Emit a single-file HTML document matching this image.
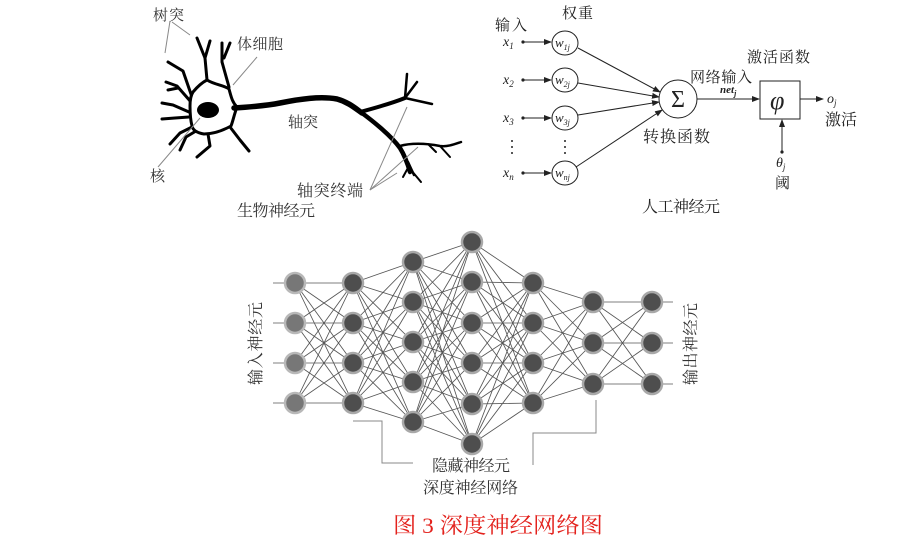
<!DOCTYPE html>
<html><head><meta charset="utf-8"><style>
html,body{margin:0;padding:0;background:#fff;}
svg{display:block;}
.cn{font-family:"Liberation Serif","Noto Serif CJK SC",serif;fill:#222;}
.m{font-family:"Liberation Serif",serif;font-style:italic;fill:#222;}
</style></head><body>
<svg width="911" height="549" viewBox="0 0 911 549" xmlns="http://www.w3.org/2000/svg">
<rect width="911" height="549" fill="#fff"/>

<!-- ===== Biological neuron ===== -->
<g fill="none" stroke="#000" stroke-linecap="round" stroke-linejoin="round">
  <g stroke-width="3">
    <path d="M207,80 L205,58 L197,38"/><path d="M205,58 L210,41"/>
    <path d="M229,87 L222,62 L222,43"/><path d="M224,58 L230,43"/>
    <path d="M192,97 L183,71 L168,62"/>
    <path d="M191,102 L177,86 L166,82"/><path d="M178,88 L168,90"/>
    <path d="M189,112 L173,105 L162,103"/>
    <path d="M189,117 L175,118 L162,119"/>
    <path d="M192,127 L180,133 L170,144"/>
    <path d="M196,131 L186,137 L180,150"/>
    <path d="M208,134 L210,146 L197,157"/>
    <path d="M230,127 L240,140 L249,151"/>
  </g>
  <path d="M207,80 C215,85 224,85 229,89 C231,96 232,102 237,107 C234,115 233,121 231,126 C222,131 212,134 204,134 C198,133 193,131 192,126 C190,118 190,112 190,106 C190,100 191,95 193,92 C198,86 203,82 207,80 Z" fill="#fff" stroke-width="3"/>
  <path d="M234,108 C250,107 265,106 280,103 C300,99 320,96 337,99 C348,102 355,108 362,113" stroke-width="5.5"/>
  <path d="M360,112 C375,108 390,104 405,98" stroke-width="4"/>
  <path d="M405,98 L407,74" stroke-width="2.5"/>
  <path d="M405,98 L417,82" stroke-width="2.5"/>
  <path d="M405,98 L432,104" stroke-width="2.5"/>
  <path d="M362,113 C378,125 392,137 400,148 C405,156 408,165 410,172" stroke-width="4.5"/>
  <path d="M400,146 C410,143 425,143 440,146 C448,147 455,144 461,142" stroke-width="2.5"/>
  <path d="M440,146 L450,157" stroke-width="2"/>
  <path d="M428,144 L436,152" stroke-width="2"/>
  <path d="M408,162 L414,175" stroke-width="2.5"/>
  <path d="M409,166 L403,177" stroke-width="2"/>
  <path d="M411,170 L421,182" stroke-width="2"/>
</g>
<ellipse cx="208" cy="110" rx="11" ry="8" fill="#000"/>
<g stroke="#888" stroke-width="1" fill="none">
  <line x1="170" y1="21" x2="165" y2="53"/>
  <line x1="172" y1="22" x2="190" y2="35"/>
  <line x1="257" y1="57" x2="233" y2="85"/>
  <line x1="158" y1="167" x2="200" y2="118"/>
  <line x1="370" y1="190" x2="407" y2="107"/>
  <line x1="370" y1="190" x2="418" y2="147"/>
  <line x1="370" y1="190" x2="397" y2="173"/>
</g>
<g class="cn" font-size="15" style="fill:#333">
  <text x="153" y="20" textLength="31">树突</text>
  <text x="237" y="49" textLength="46">体细胞</text>
  <text x="288" y="127" textLength="30">轴突</text>
  <text x="150" y="181">核</text>
  <text x="297" y="196" font-size="16" textLength="66">轴突终端</text>
  <text x="237" y="216" font-size="16" textLength="78">生物神经元</text>
</g>

<!-- ===== Artificial neuron ===== -->
<defs>
  <marker id="ah" markerWidth="8" markerHeight="6" refX="7" refY="3" orient="auto" markerUnits="userSpaceOnUse">
    <path d="M0,0 L8,3 L0,6 Z" fill="#222"/>
  </marker>
</defs>
<g class="cn" font-size="15">
  <text x="562" y="18" textLength="31">权重</text>
  <text x="495" y="30" textLength="32">输入</text>
  <text x="690" y="82" textLength="62">网络输入</text>
  <text x="747" y="62" textLength="63">激活函数</text>
  <text x="643" y="142" font-size="16" textLength="67">转换函数</text>
  <text x="825" y="125" font-size="16" textLength="32">激活</text>
  <text x="775" y="188">阈</text>
  <text x="642" y="212" font-size="16" textLength="78">人工神经元</text>
</g>
<g stroke="#222" stroke-width="1" fill="none">
  <line x1="523" y1="42" x2="551" y2="42" marker-end="url(#ah)"/>
  <line x1="523" y1="80" x2="551" y2="80" marker-end="url(#ah)"/>
  <line x1="523" y1="118" x2="551" y2="118" marker-end="url(#ah)"/>
  <line x1="523" y1="173" x2="551" y2="173" marker-end="url(#ah)"/>
  <ellipse cx="565" cy="43" rx="13" ry="12" fill="#fff"/>
  <ellipse cx="565" cy="80" rx="13" ry="12" fill="#fff"/>
  <ellipse cx="565" cy="118" rx="13" ry="12" fill="#fff"/>
  <ellipse cx="565" cy="173" rx="13" ry="12" fill="#fff"/>
  <line x1="578" y1="48" x2="660" y2="92" marker-end="url(#ah)"/>
  <line x1="578" y1="83" x2="659" y2="97" marker-end="url(#ah)"/>
  <line x1="578" y1="115" x2="659" y2="102" marker-end="url(#ah)"/>
  <line x1="576" y1="167" x2="662" y2="110" marker-end="url(#ah)"/>
  <circle cx="678" cy="99" r="19" fill="#fff"/>
  <line x1="697" y1="99" x2="759" y2="99" marker-end="url(#ah)"/>
  <rect x="760" y="81" width="40" height="38" fill="#fff"/>
  <line x1="800" y1="99" x2="823" y2="99" marker-end="url(#ah)"/>
  <line x1="782" y1="152" x2="782" y2="120" marker-end="url(#ah)"/>
</g>
<g fill="#222">
  <circle cx="523" cy="42" r="1.6"/><circle cx="523" cy="80" r="1.6"/>
  <circle cx="523" cy="118" r="1.6"/><circle cx="523" cy="173" r="1.6"/>
  <circle cx="782" cy="152" r="1.6"/>
  <circle cx="512" cy="141" r="1"/><circle cx="512" cy="147" r="1"/><circle cx="512" cy="153" r="1"/>
  <circle cx="565" cy="141" r="1"/><circle cx="565" cy="147" r="1"/><circle cx="565" cy="153" r="1"/>
</g>
<g class="m" font-size="14">
  <text x="503" y="46">x<tspan font-size="9" dy="3">1</tspan></text>
  <text x="503" y="84">x<tspan font-size="9" dy="3">2</tspan></text>
  <text x="503" y="122">x<tspan font-size="9" dy="3">3</tspan></text>
  <text x="503" y="177">x<tspan font-size="9" dy="3">n</tspan></text>
  <text x="555" y="47" font-size="13">w<tspan font-size="8" dy="3">1j</tspan></text>
  <text x="555" y="84" font-size="13">w<tspan font-size="8" dy="3">2j</tspan></text>
  <text x="555" y="122" font-size="13">w<tspan font-size="8" dy="3">3j</tspan></text>
  <text x="555" y="177" font-size="13">w<tspan font-size="8" dy="3">nj</tspan></text>
  <text x="720" y="93" font-size="11" font-weight="bold">net<tspan font-size="8" dy="3">j</tspan></text>
  <text x="827" y="103">o<tspan font-size="9" dy="3">j</tspan></text>
  <text x="776" y="167">θ<tspan font-size="9" dy="3">j</tspan></text>
  <text x="770" y="109" font-size="26">φ</text>
</g>
<text x="678" y="107" font-family="Liberation Serif, serif" font-size="24" text-anchor="middle" fill="#222">Σ</text>

<!-- ===== Deep network ===== -->
<g>
<g stroke="#555" stroke-width="0.85">
<path d="M295,283L353,283M295,283L353,323M295,283L353,363M295,283L353,403M295,323L353,283M295,323L353,323M295,323L353,363M295,323L353,403M295,363L353,283M295,363L353,323M295,363L353,363M295,363L353,403M295,403L353,283M295,403L353,323M295,403L353,363M295,403L353,403"/>
<path d="M353,283L413,262M353,283L413,302M353,283L413,342M353,283L413,382M353,283L413,422M353,323L413,262M353,323L413,302M353,323L413,342M353,323L413,382M353,323L413,422M353,363L413,262M353,363L413,302M353,363L413,342M353,363L413,382M353,363L413,422M353,403L413,262M353,403L413,302M353,403L413,342M353,403L413,382M353,403L413,422"/>
<path d="M413,262L472,242M413,262L472,282M413,262L472,323M413,262L472,363M413,262L472,404M413,262L472,444M413,302L472,242M413,302L472,282M413,302L472,323M413,302L472,363M413,302L472,404M413,302L472,444M413,342L472,242M413,342L472,282M413,342L472,323M413,342L472,363M413,342L472,404M413,342L472,444M413,382L472,242M413,382L472,282M413,382L472,323M413,382L472,363M413,382L472,404M413,382L472,444M413,422L472,242M413,422L472,282M413,422L472,323M413,422L472,363M413,422L472,404M413,422L472,444"/>
<path d="M472,242L533,283M472,242L533,323M472,242L533,363M472,242L533,403M472,282L533,283M472,282L533,323M472,282L533,363M472,282L533,403M472,323L533,283M472,323L533,323M472,323L533,363M472,323L533,403M472,363L533,283M472,363L533,323M472,363L533,363M472,363L533,403M472,404L533,283M472,404L533,323M472,404L533,363M472,404L533,403M472,444L533,283M472,444L533,323M472,444L533,363M472,444L533,403"/>
<path d="M533,283L593,302M533,283L593,343M533,283L593,384M533,323L593,302M533,323L593,343M533,323L593,384M533,363L593,302M533,363L593,343M533,363L593,384M533,403L593,302M533,403L593,343M533,403L593,384"/>
<path d="M593,302L652,302M593,302L652,343M593,302L652,384M593,343L652,302M593,343L652,343M593,343L652,384M593,384L652,302M593,384L652,343M593,384L652,384"/>
<path d="M273,283L295,283M273,323L295,323M273,363L295,363M273,403L295,403M652,302L673,302M652,343L673,343M652,384L673,384"/>
</g>
<g fill="#777" stroke="#b8b8b8" stroke-width="2.5">
  <circle cx="295" cy="283" r="10"/><circle cx="295" cy="323" r="10"/><circle cx="295" cy="363" r="10"/><circle cx="295" cy="403" r="10"/>
</g>
<g fill="#4e4e4e" stroke="#a8a8a8" stroke-width="2.5">
  <circle cx="353" cy="283" r="10"/><circle cx="353" cy="323" r="10"/><circle cx="353" cy="363" r="10"/><circle cx="353" cy="403" r="10"/>
  <circle cx="413" cy="262" r="10"/><circle cx="413" cy="302" r="10"/><circle cx="413" cy="342" r="10"/><circle cx="413" cy="382" r="10"/><circle cx="413" cy="422" r="10"/>
  <circle cx="472" cy="242" r="10"/><circle cx="472" cy="282" r="10"/><circle cx="472" cy="323" r="10"/><circle cx="472" cy="363" r="10"/><circle cx="472" cy="404" r="10"/><circle cx="472" cy="444" r="10"/>
  <circle cx="533" cy="283" r="10"/><circle cx="533" cy="323" r="10"/><circle cx="533" cy="363" r="10"/><circle cx="533" cy="403" r="10"/>
  <circle cx="593" cy="302" r="10"/><circle cx="593" cy="343" r="10"/><circle cx="593" cy="384" r="10"/>
  <circle cx="652" cy="302" r="10"/><circle cx="652" cy="343" r="10"/><circle cx="652" cy="384" r="10"/>
</g>
</g>
<g stroke="#888" stroke-width="1" fill="none">
  <path d="M353,421 L382,421 L382,463 L413,463"/>
  <path d="M596,400 L596,433 L533,433 L533,465"/>
</g>
<g class="cn" font-size="16" style="fill:#333">
  <text transform="translate(261,385) rotate(-90)" textLength="83">输入神经元</text>
  <text transform="translate(696,385) rotate(-90)" textLength="82">输出神经元</text>
  <text x="432" y="471" textLength="78">隐藏神经元</text>
  <text x="423" y="493" textLength="95">深度神经网络</text>
</g>

<text x="393" y="533" class="cn" font-size="22" textLength="210" lengthAdjust="spacingAndGlyphs" style="fill:#e3211c">图 3 深度神经网络图</text>
</svg>
</body></html>
